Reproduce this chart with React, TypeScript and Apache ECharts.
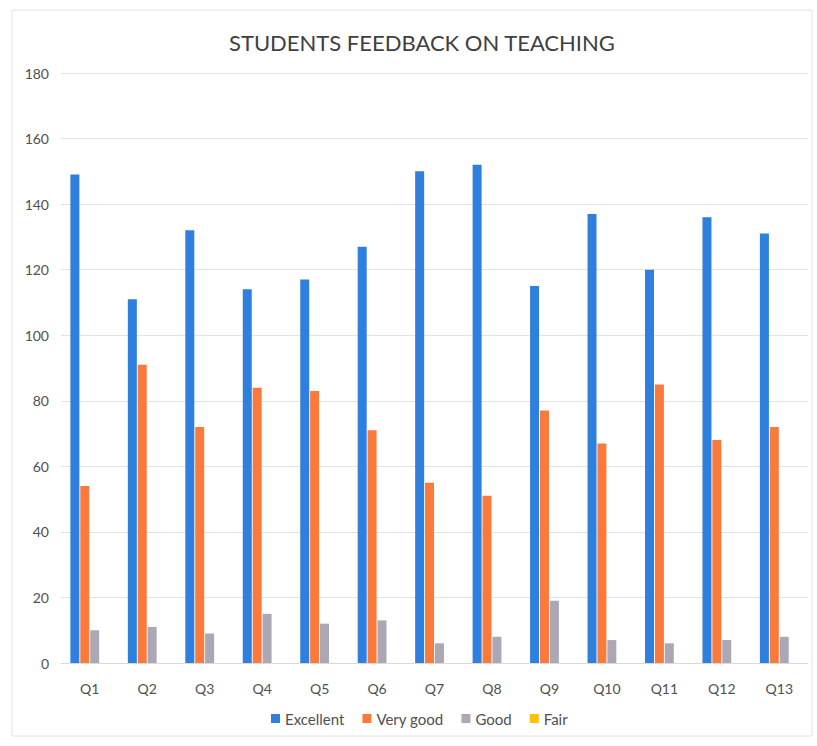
import React, { useEffect, useRef } from "react";
import * as echarts from "echarts";

const categories = ["Q1", "Q2", "Q3", "Q4", "Q5", "Q6", "Q7", "Q8", "Q9", "Q10", "Q11", "Q12", "Q13"];
const excellent = [149, 111, 132, 114, 117, 127, 150, 152, 115, 137, 120, 136, 131];
const veryGood = [54, 91, 72, 84, 83, 71, 55, 51, 77, 67, 85, 68, 72];
const good = [10, 11, 9, 15, 12, 13, 6, 8, 19, 7, 6, 7, 8];
const fair = [0, 0, 0, 0, 0, 0, 0, 0, 0, 0, 0, 0, 0];
const seriesNames = ["Excellent", "Very good", "Good", "Fair"];
const colors = ["#2f7fde", "#fa7a3c", "#aba7b4", "#ffc000"];

export default function App() {
  const ref = useRef<HTMLDivElement>(null);
  useEffect(() => {
    if (!ref.current) return;
    const chart = echarts.init(ref.current, undefined, { renderer: "svg" });
    const font = "Lato, 'Open Sans', sans-serif";
    const data = [excellent, veryGood, good, fair];
    chart.setOption({
      animation: false,
      backgroundColor: "#ffffff",
      color: colors,
      textStyle: { fontFamily: font },
      title: {
        text: "STUDENTS FEEDBACK ON TEACHING",
        left: 224,
        top: 26,
        textStyle: { fontFamily: font, fontSize: 22, fontWeight: "normal", color: "#404040" },
      },
      legend: {
        bottom: 15,
        left: 266,
        itemWidth: 9,
        itemHeight: 9,
        itemGap: 18,
        icon: "rect",
        textStyle: { fontFamily: font, fontSize: 15, color: "#505050" },
        data: seriesNames,
      },
      grid: { left: 61, right: 9, top: 73, bottom: 83, containLabel: false },
      xAxis: {
        type: "category",
        data: categories,
        axisLine: { lineStyle: { color: "#d9d9d9" } },
        axisTick: { show: false },
        axisLabel: { fontFamily: font, fontSize: 14, color: "#505050", margin: 18 },
      },
      yAxis: {
        type: "value",
        min: 0,
        max: 180,
        interval: 20,
        axisLine: { show: false },
        axisTick: { show: false },
        splitLine: { lineStyle: { color: "#e3e3e3", width: 1 } },
        axisLabel: { fontFamily: font, fontSize: 14, color: "#505050", margin: 12 },
      },
      series: seriesNames.map((name, i) => ({
        name,
        type: "bar",
        data: data[i],
        barWidth: 9,
        barGap: "10%",
        itemStyle: { color: colors[i] },
      })),
      graphic: [
        {
          type: "rect",
          shape: { x: 12, y: 10, width: 800, height: 726 },
          style: { fill: "none", stroke: "#e2e2e2", lineWidth: 1 },
          silent: true,
        },
      ],
    });
    return () => chart.dispose();
  }, []);
  return (
    <div
      ref={ref}
      style={{ position: "absolute", left: 0, top: 0, width: 817, height: 746 }}
    />
  );
}
